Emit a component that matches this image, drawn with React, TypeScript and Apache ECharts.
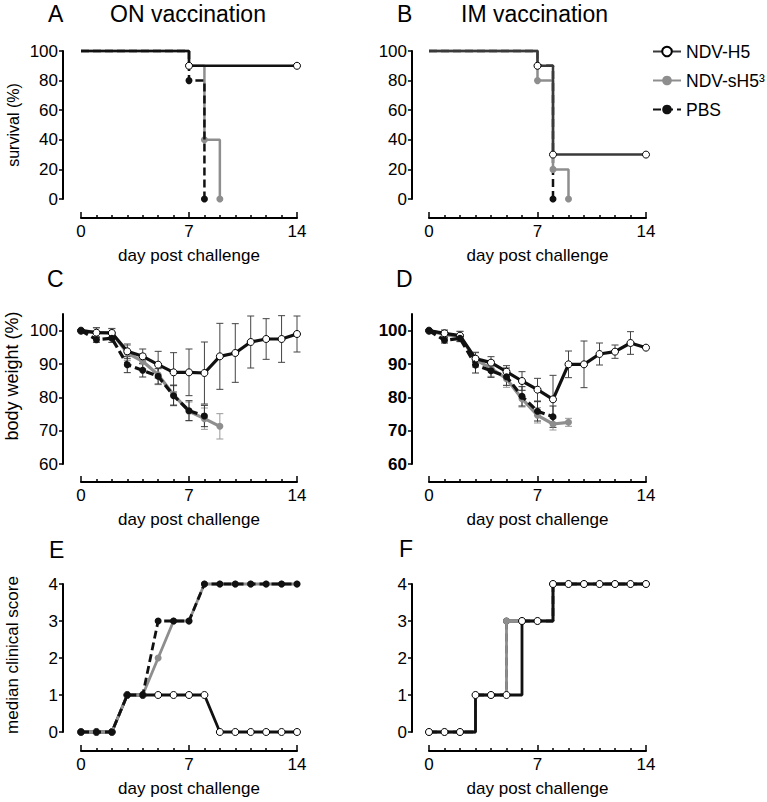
import React, { useEffect, useRef } from "react";
import * as echarts from "echarts";

// ---------- data ----------
const DAYS = [0, 1, 2, 3, 4, 5, 6, 7, 8, 9, 10, 11, 12, 13, 14];
const NAMES = ["NDV-H5", "NDV-sH5³", "PBS"];
const PANEL_TITLES = ["ON vaccination", "IM vaccination"];
const PANEL_LETTERS = ["A", "B", "C", "D", "E", "F"];
const X_NAME = "day post challenge";
const Y_NAMES = ["survival (%)", "body weight (%)", "median clinical score"];
const SURV_TICKS = [0, 20, 40, 60, 80, 100];
const WEIGHT_TICKS = [60, 70, 80, 90, 100];
const SCORE_TICKS = [0, 1, 2, 3, 4];

// survival (Kaplan-Meier steps): [day, %]
const survA_H5 = [[0, 100], [7, 90], [14, 90]];
const survA_sH5 = [[0, 100], [7, 90], [8, 40], [9, 0]];
const survA_PBS = [[0, 100], [7, 80], [8, 0]];
const survB_H5 = [[0, 100], [7, 90], [8, 30], [14, 30]];
const survB_sH5 = [[0, 100], [7, 80], [8, 20], [9, 0]];
const survB_PBS = [[0, 100], [7, 90], [8, 0]];

// body weight (% of day 0), mean and SD per day
const wC_H5 = [100, 99.4, 99.3, 93.8, 92.3, 89.8, 87.5, 87.5, 87.3, 92.3, 93.3, 96.6, 97.5, 97.5, 99.0];
const wC_H5_sd = [0, 1.5, 1.3, 2.2, 2.2, 4.0, 5.9, 7.0, 9.3, 9.9, 8.8, 7.8, 6.1, 7.0, 5.4];
const wC_sH5 = [100, 99.5, 99.4, 93.3, 90.8, 86.8, 80.8, 75.8, 73.6, 71.3];
const wC_sH5_sd = [0, 1.3, 1.3, 2.3, 2.3, 3.0, 3.0, 2.8, 3.2, 3.8];
const wC_PBS = [100, 97.3, 97.7, 89.8, 88.1, 86.3, 80.5, 76.0, 74.4];
const wC_PBS_sd = [0, 0.8, 1.2, 2.4, 2.0, 2.3, 3.0, 3.0, 3.2];

const wD_H5 = [100, 99.2, 98.5, 91.6, 90.4, 87.7, 84.9, 82.3, 79.4, 89.9, 89.9, 93.0, 93.7, 96.3, 94.9];
const wD_H5_sd = [0, 1.0, 1.3, 1.8, 1.8, 1.8, 2.8, 3.4, 7.2, 4.0, 7.0, 3.3, 2.0, 3.4, 0];
const wD_sH5 = [100, 98.8, 98.3, 91.3, 88.7, 85.6, 79.6, 74.6, 72.0, 72.5];
const wD_sH5_sd = [0, 1.2, 1.5, 2.3, 2.4, 2.6, 2.5, 2.3, 1.8, 1.2];
const wD_PBS = [100, 97.1, 97.7, 89.7, 88.0, 86.2, 80.3, 75.8, 74.2];
const wD_PBS_sd = [0, 0.8, 1.0, 2.4, 2.0, 2.6, 2.9, 2.9, 3.2];

// median clinical score per day
const sE_H5 = [0, 0, 0, 1, 1, 1, 1, 1, 1, 0, 0, 0, 0, 0, 0];
const sE_sH5 = [0, 0, 0, 1, 1, 2, 3, 3, 4, 4, 4, 4, 4, 4, 4];
const sE_PBS = [0, 0, 0, 1, 1, 3, 3, 3, 4, 4, 4, 4, 4, 4, 4];
const sF_H5 = [0, 0, 0, 1, 1, 1, 3, 3, 4, 4, 4, 4, 4, 4, 4];
const sF_sH5 = [0, 0, 0, 1, 1, 3, 3, 3, 4, 4, 4, 4, 4, 4, 4];
const sF_PBS = [0, 0, 0, 1, 1, 3, 3, 3, 4, 4, 4, 4, 4, 4, 4];

// ---------- styles ----------
const BLACK = "#111111";
const DARK = "#3a3a3a";
const GRAY = "#8e8e8e";
const FONT = "'Liberation Sans', Arial, sans-serif";

const COL_LEFT = [81, 429];
const COL_WIDTH = [216, 217];
const Y_OFF = [18, 17];
const ROW_TOP = [51, 314, 584];
const ROW_H = [148, 150, 148];
const X_OFF = [19, 18, 19];

const toPairs = (arr: number[]) => arr.map((v, i) => [DAYS[i], v]);

function lineSeries(name: string, data: any[], gi: number, color: string, o: any) {
  const open = o.open;
  return {
    type: "line",
    name,
    xAxisIndex: gi,
    yAxisIndex: gi,
    data,
    z: o.z,
    clip: false,
    step: o.step || false,
    symbol: "circle",
    symbolSize: o.hideFirst
      ? (_v: any, p: any) => (p.dataIndex === 0 ? 0 : 7)
      : 7,
    showSymbol: true,
    lineStyle: { color, width: o.width, type: o.dashed ? [8, 4] : "solid", cap: "butt" },
    itemStyle: open
      ? { color: "#ffffff", borderColor: "#000", borderWidth: 1 }
      : { color: o.dotColor || color, borderWidth: 0 },
    emphasis: { disabled: true },
    silent: true,
  };
}

function errSeries(mean: number[], sd: number[], gi: number, color: string, z: number) {
  const data = mean
    .map((m, i) => (sd[i] ? [DAYS[i], m - sd[i], m + sd[i]] : null))
    .filter((d) => d !== null);
  return {
    type: "custom",
    name: "sd",
    xAxisIndex: gi,
    yAxisIndex: gi,
    z,
    silent: true,
    clip: false,
    data,
    encode: { x: 0, y: [1, 2] },
    renderItem: (_p: any, api: any) => {
      const x = api.value(0);
      const lo = api.coord([x, api.value(1)]);
      const hi = api.coord([x, api.value(2)]);
      const w = 3.5;
      const st = { stroke: color, lineWidth: 1 };
      return {
        type: "group",
        children: [
          { type: "line", shape: { x1: lo[0], y1: lo[1], x2: hi[0], y2: hi[1] }, style: st },
          { type: "line", shape: { x1: lo[0] - w, y1: lo[1], x2: lo[0] + w, y2: lo[1] }, style: st },
          { type: "line", shape: { x1: hi[0] - w, y1: hi[1], x2: hi[0] + w, y2: hi[1] }, style: st },
        ],
      };
    },
  };
}

export default function App() {
  const ref = useRef<HTMLDivElement>(null);
  useEffect(() => {
    if (!ref.current) return;
    const chart = echarts.init(ref.current, null, { renderer: "svg" });

    const grids: any[] = [];
    const xAxes: any[] = [];
    const yAxes: any[] = [];
    const yCfg = [
      { min: 0, max: 100, interval: 20, ticks: SURV_TICKS, nameSize: 16, shift: 0 },
      { min: 60, max: 105, interval: 10, ticks: WEIGHT_TICKS, nameSize: 18, shift: 26 },
      { min: 0, max: 4, interval: 1, ticks: SCORE_TICKS, nameSize: 17, shift: 6 },
    ];
    for (let r = 0; r < 3; r++) {
      for (let c = 0; c < 2; c++) {
        const gi = r * 2 + c;
        grids.push({
          left: COL_LEFT[c],
          top: ROW_TOP[r],
          width: COL_WIDTH[c],
          height: ROW_H[r],
          containLabel: false,
          outerBoundsMode: "none",
        });
        xAxes.push({
          type: "value",
          gridIndex: gi,
          min: 0,
          max: 14,
          interval: 7,
          offset: X_OFF[r],
          axisLine: { show: true, onZero: false, lineStyle: { color: "#000", width: 2 } },
          axisTick: { show: true, inside: true, length: 6, lineStyle: { color: "#000", width: 1.5 } },
          minorTick: { show: true, splitNumber: 7, length: 3, lineStyle: { color: "#000", width: 1.5 } },
          splitLine: { show: false },
          minorSplitLine: { show: false },
          axisLabel: { fontSize: 17, color: "#000", margin: 5, fontFamily: FONT },
          name: X_NAME,
          nameLocation: "middle",
          nameGap: 29,
          nameTextStyle: { fontSize: 17, color: "#000", fontFamily: FONT },
        });
        const yc = yCfg[r];
        yAxes.push({
          type: "value",
          gridIndex: gi,
          min: yc.min,
          max: yc.max,
          interval: yc.interval,
          offset: Y_OFF[c],
          axisLine: { show: true, onZero: false, lineStyle: { color: "#000", width: 2 } },
          axisTick: { show: true, length: 4, lineStyle: { color: "#000", width: 1.5 }, customValues: yc.ticks },
          splitLine: { show: false },
          axisLabel: {
            fontSize: 17,
            color: "#000",
            margin: 5,
            fontFamily: FONT,
            fontWeight: gi === 3 ? "bold" : "normal",
            customValues: yc.ticks,
          },
          name: c === 0 ? Y_NAMES[r] : "",
          nameLocation: "middle",
          nameGap: 42,
          nameTextStyle: {
            fontSize: yc.nameSize,
            color: "#000",
            fontFamily: FONT,
            padding: [0, 0, 0, yc.shift],
          },
        });
      }
    }

    const series: any[] = [
      // Panel B first (legend icons)
      lineSeries(NAMES[0], survB_H5, 1, DARK, { step: "end", width: 2.5, open: true, hideFirst: true, z: 5 }),
      lineSeries(NAMES[1], survB_sH5, 1, GRAY, { step: "end", width: 2.5, hideFirst: true, z: 4 }),
      lineSeries(NAMES[2], survB_PBS, 1, BLACK, { step: "end", width: 2.5, dashed: true, hideFirst: true, z: 3 }),
      // Panel A
      lineSeries(NAMES[0], survA_H5, 0, BLACK, { step: "end", width: 2.5, open: true, hideFirst: true, z: 5 }),
      lineSeries(NAMES[1], survA_sH5, 0, GRAY, { step: "end", width: 2.5, hideFirst: true, z: 3 }),
      lineSeries(NAMES[2], survA_PBS, 0, BLACK, { step: "end", width: 2.5, dashed: true, hideFirst: true, z: 4 }),
      // Panel C
      errSeries(wC_sH5, wC_sH5_sd, 2, "#999", 1),
      errSeries(wC_H5, wC_H5_sd, 2, "#444", 1),
      errSeries(wC_PBS, wC_PBS_sd, 2, "#333", 1),
      lineSeries(NAMES[1], toPairs(wC_sH5), 2, GRAY, { width: 3.2, z: 3 }),
      lineSeries(NAMES[0], toPairs(wC_H5), 2, BLACK, { width: 3.2, open: true, z: 4 }),
      lineSeries(NAMES[2], toPairs(wC_PBS), 2, BLACK, { width: 3.2, dashed: true, z: 5 }),
      // Panel D
      errSeries(wD_sH5, wD_sH5_sd, 3, "#999", 1),
      errSeries(wD_H5, wD_H5_sd, 3, "#444", 1),
      errSeries(wD_PBS, wD_PBS_sd, 3, "#333", 1),
      lineSeries(NAMES[1], toPairs(wD_sH5), 3, GRAY, { width: 3.2, z: 3 }),
      lineSeries(NAMES[0], toPairs(wD_H5), 3, BLACK, { width: 3.2, open: true, z: 4 }),
      lineSeries(NAMES[2], toPairs(wD_PBS), 3, BLACK, { width: 3.2, dashed: true, z: 5 }),
      // Panel E
      lineSeries(NAMES[0], toPairs(sE_H5), 4, BLACK, { width: 2.8, open: true, z: 3 }),
      lineSeries(NAMES[1], toPairs(sE_sH5), 4, GRAY, { width: 2.8, z: 4 }),
      lineSeries(NAMES[2], toPairs(sE_PBS), 4, BLACK, { width: 2.8, dashed: true, z: 5 }),
      // Panel F
      lineSeries(NAMES[2], toPairs(sF_PBS), 5, BLACK, { step: "end", width: 2.8, dashed: true, z: 3 }),
      lineSeries(NAMES[1], toPairs(sF_sH5), 5, GRAY, { step: "end", width: 2.8, z: 4 }),
      lineSeries(NAMES[0], toPairs(sF_H5), 5, BLACK, { step: "end", width: 2.8, open: true, z: 5 }),
    ];

    const titleStyle = { fontSize: 23, fontWeight: "normal", color: "#000", fontFamily: FONT };
    const titles = [
      { text: PANEL_LETTERS[0], left: 48, top: 2 },
      { text: PANEL_LETTERS[1], left: 397, top: 2 },
      { text: PANEL_TITLES[0], left: 110, top: 2 },
      { text: PANEL_TITLES[1], left: 461, top: 2 },
      { text: PANEL_LETTERS[2], left: 47, top: 267 },
      { text: PANEL_LETTERS[3], left: 396, top: 267 },
      { text: PANEL_LETTERS[4], left: 49, top: 538 },
      { text: PANEL_LETTERS[5], left: 399, top: 537 },
    ].map((t) => ({ ...t, padding: 0, textStyle: titleStyle }));

    chart.setOption({
      animation: false,
      backgroundColor: "#ffffff",
      textStyle: { fontFamily: FONT },
      title: titles,
      legend: {
        data: NAMES,
        orient: "vertical",
        left: 652,
        top: 42,
        padding: 0,
        itemWidth: 28,
        itemHeight: 12,
        itemGap: 10,
        selectedMode: false,
        textStyle: { fontSize: 17.5, lineHeight: 19, color: "#000", fontFamily: FONT },
      },
      grid: grids,
      xAxis: xAxes,
      yAxis: yAxes,
      series,
    });
    return () => chart.dispose();
  }, []);
  return (
    <div
      ref={ref}
      style={{ position: "fixed", left: 0, top: 0, width: 767, height: 802, background: "#fff" }}
    />
  );
}
